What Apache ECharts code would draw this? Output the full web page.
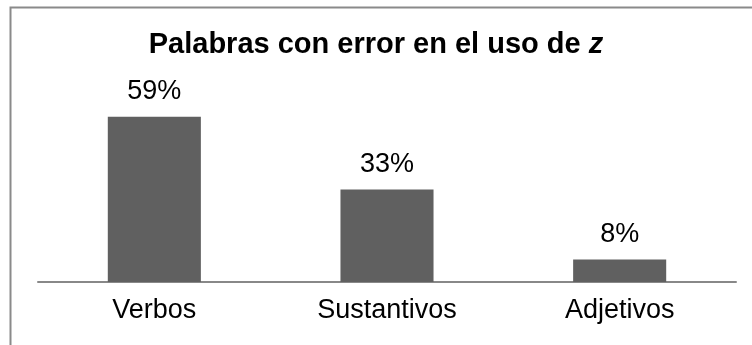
<!DOCTYPE html>
<html><head><meta charset="utf-8">
<script src="https://cdn.jsdelivr.net/npm/echarts@6/dist/echarts.min.js"></script>
<style>html,body{margin:0;padding:0;background:#fff}#c{width:752px;height:345px}</style>
</head><body><div id="c"></div>
<script>
const categories = ['Verbos', 'Sustantivos', 'Adjetivos'];
const values = [59, 33, 8];
const chart = echarts.init(document.getElementById('c'), null, {renderer: 'canvas'});
chart.setOption({
  animation: false,
  backgroundColor: '#fff',
  graphic: [{
    type: 'rect', left: 8, top: 5,
    shape: {width: 760, height: 345},
    style: {fill: 'none', stroke: '#8a8a8a', lineWidth: 2}, z: 100
  }],
  title: {
    text: '{n|Palabras con error en el uso de }{i|z}',
    left: 'center', top: 25,
    textStyle: {
      rich: {
        n: {fontFamily: 'Liberation Sans', fontWeight: 'bold', fontSize: 29, color: '#000'},
        i: {fontFamily: 'Liberation Sans', fontWeight: 'bold', fontStyle: 'italic', fontSize: 29, color: '#000'}
      }
    }
  },
  grid: {left: 38, right: 16, top: 86, bottom: 63},
  xAxis: {
    type: 'category', data: categories,
    axisLine: {lineStyle: {color: '#888', width: 2}},
    axisTick: {show: false},
    axisLabel: {color: '#000', fontSize: 27, fontFamily: 'Liberation Sans', margin: 15}
  },
  yAxis: {type: 'value', min: 0, max: 70, show: false, splitLine: {show: false}},
  series: [{
    type: 'bar', data: values, barWidth: '40%',
    itemStyle: {color: '#606060'},
    label: {show: true, position: 'top', distance: 12, formatter: '{c}%',
      color: '#000', fontSize: 27, fontFamily: 'Liberation Sans'}
  }]
});
</script></body></html>
